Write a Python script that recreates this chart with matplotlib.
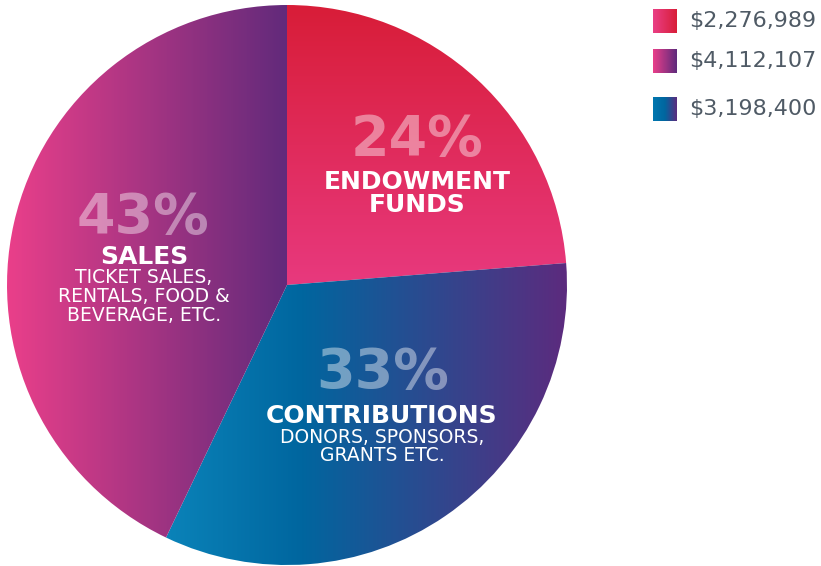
import numpy as np
import matplotlib
matplotlib.use("Agg")
import matplotlib.pyplot as plt
from matplotlib.colors import LinearSegmentedColormap

# Data
categories = ["ENDOWMENT\nFUNDS", "CONTRIBUTIONS", "SALES"]
amounts = [2276989, 3198400, 4112107]
percents = ["24%", "33%", "43%"]
subtexts = ["", "DONORS, SPONSORS,\nGRANTS ETC.", "TICKET SALES,\nRENTALS, FOOD &\nBEVERAGE, ETC."]
legend_labels = ["$2,276,989", "$4,112,107", "$3,198,400"]

# gradient colours for each slice
endow_cmap = LinearSegmentedColormap.from_list("endow", ["#e8397e", "#d81d38"])
contrib_cmap = LinearSegmentedColormap.from_list(
    "contrib", [(0.0, "#0a82b8"), (0.33, "#00669f"), (1.0, "#5c2b7e")])
sales_cmap = LinearSegmentedColormap.from_list("sales", ["#ea3f8a", "#622a7b"])

W, H = 821, 566
fig = plt.figure(figsize=(W / 100, H / 100), dpi=100)
ax = fig.add_axes([0, 0, 1, 1])

cx, cy, r = 287, H - 285, 280
wedges, _ = ax.pie(amounts, startangle=90, counterclock=False,
                   center=(cx, cy), radius=r,
                   wedgeprops=dict(facecolor="none", linewidth=0))

ext = [cx - r - 2, cx + r + 2, cy - r - 2, cy + r + 2]
xs = np.linspace(ext[0], ext[1], 600)
ys = np.linspace(ext[2], ext[3], 600)


def fill_wedge(wedge, t, cmap):
    im = ax.imshow(t, cmap=cmap, vmin=0, vmax=1, extent=ext, origin="lower",
                   aspect="auto", interpolation="bilinear")
    im.set_clip_path(wedge)


# endowment: vertical gradient, red at top
fill_wedge(wedges[0], np.clip((ys - cy) / r, 0, 1).reshape(-1, 1), endow_cmap)
# contributions: horizontal gradient
fill_wedge(wedges[1], np.clip((xs - 170) / (cx + r - 170), 0, 1).reshape(1, -1), contrib_cmap)
# sales: horizontal gradient
fill_wedge(wedges[2], np.clip((xs - (cx - r)) / r, 0, 1).reshape(1, -1), sales_cmap)

# slice labels (positions in pixels from the top)
pct_style = dict(color="white", alpha=0.42, fontsize=40, fontweight="bold",
                 ha="center", va="baseline")
head = dict(color="white", fontsize=18, fontweight="bold", ha="center", va="baseline")
sub = dict(color="white", fontsize=13.5, ha="center", va="baseline")

ax.text(417, H - 155, percents[0], **pct_style)
for i, line in enumerate(categories[0].split("\n")):
    ax.text(417, H - (189 + 23 * i), line, **head)

ax.text(383, H - 388, percents[1], **pct_style)
ax.text(382, H - 423, categories[1], **head)
for i, line in enumerate(subtexts[1].split("\n")):
    ax.text(382, H - (443 + 18 * i), line, **sub)

ax.text(143, H - 233, percents[2], **pct_style)
ax.text(144, H - 264, categories[2], **head)
for i, line in enumerate(subtexts[2].split("\n")):
    ax.text(144, H - (283 + 19 * i), line, **sub)

# legend with gradient swatches
leg_cmaps = [
    LinearSegmentedColormap.from_list("l1", ["#ea3f86", "#d81d38"]),
    LinearSegmentedColormap.from_list("l2", ["#ea3f8a", "#5e2a7c"]),
    LinearSegmentedColormap.from_list("l3", ["#0077b0", "#00669f", "#5c2b7e"]),
]
grad_h = np.linspace(0, 1, 256).reshape(1, -1)
leg_y = [21, 61, 109]
for cm, yc, lab in zip(leg_cmaps, leg_y, legend_labels):
    ax.imshow(grad_h, cmap=cm, extent=[653, 677, H - yc - 12, H - yc + 12],
              origin="lower", aspect="auto", interpolation="bicubic")
    ax.text(689, H - yc, lab, color="#4f5a65", fontsize=16, ha="left",
            va="center")

ax.set_xlim(0, W)
ax.set_ylim(0, H)
ax.set_aspect("auto")
ax.axis("off")

fig.savefig("out.png", dpi=100, facecolor="white")
